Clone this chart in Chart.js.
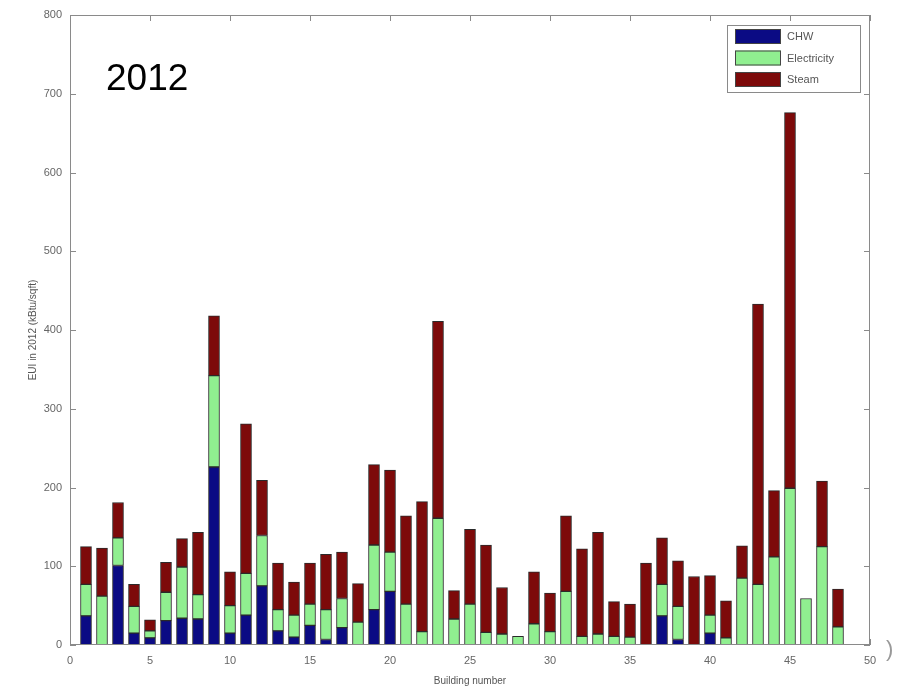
<!DOCTYPE html>
<html>
<head>
<meta charset="utf-8">
<script src="https://cdn.jsdelivr.net/npm/chart.js@4.4.1/dist/chart.umd.min.js"></script>
<style>
html,body{margin:0;padding:0;background:#fff;}
#wrap{position:relative;width:905px;height:689px;}
</style>
</head>
<body>
<div id="wrap"><canvas id="c" width="905" height="689"></canvas></div>
<script>
// ---- data ----
const buildings = [1,2,3,4,5,6,7,8,9,10,11,12,13,14,15,16,17,18,19,20,21,22,23,24,25,26,27,28,29,30,31,32,33,34,35,36,37,38,39,40,41,42,43,44,45,46,47,48];
const chw   = [37,0,101,15,9,31,34,33,226,15,38,75,18,10,25,7,22,0,45,68,0,0,0,0,0,0,0,0,0,0,0,0,0,0,0,0,37,7,0,15,0,0,0,0,0,0,0,0];
const elec  = [40,62,35,34,9,36,65,31,116,35,53,64,27,28,27,38,37,29,82,50,52,17,161,33,52,16,14,11,27,17,68,11,14,11,10,0,40,42,0,23,9,85,77,112,199,59,125,23];
const steam = [48,61,45,28,14,38,36,79,76,43,190,70,59,42,52,70,59,49,102,104,112,165,250,36,95,111,59,0,66,49,96,111,129,44,42,104,59,58,87,50,47,41,356,84,477,0,83,48];
const seriesNames = ["CHW","Electricity","Steam"];
const xTicks = [0,5,10,15,20,25,30,35,40,45,50];
const yTicks = [0,100,200,300,400,500,600,700,800];
const panelLabel = "2012";
const xTitle = "Building number";
const yTitle = "EUI in 2012 (kBtu/sqft)";

const colors = ["#0b0b84","#90ef90","#7d0a0a"];
const pts = arr => buildings.map((b,i)=>({x:b,y:arr[i]}));
const allSeries = [chw, elec, steam];

const framePlugin = {
  id:'frame',
  beforeDatasetsDraw(chart){
    const {ctx, chartArea:a, scales:{x,y}} = chart;
    ctx.save();
    ctx.strokeStyle = '#8a8a8a';
    ctx.lineWidth = 1;
    ctx.beginPath();
    const L = 6;
    xTicks.forEach(v=>{
      const px = Math.round(x.getPixelForValue(v))+0.5;
      ctx.moveTo(px,a.bottom); ctx.lineTo(px,a.bottom-L);
      ctx.moveTo(px,a.top); ctx.lineTo(px,a.top+L);
    });
    yTicks.forEach(v=>{
      const py = Math.round(y.getPixelForValue(v))+0.5;
      ctx.moveTo(a.left,py); ctx.lineTo(a.left+L,py);
      ctx.moveTo(a.right,py); ctx.lineTo(a.right-L,py);
    });
    ctx.stroke();
    ctx.restore();
  },
  afterDatasetsDraw(chart){
    const {ctx, chartArea:a} = chart;
    ctx.save();
    ctx.strokeStyle = '#8a8a8a';
    ctx.lineWidth = 1;
    ctx.strokeRect(a.left+0.5, a.top+0.5, a.right-a.left-1, a.bottom-a.top-1);
    // panel label
    ctx.fillStyle = '#000';
    ctx.font = '37px "Liberation Sans", Arial, sans-serif';
    ctx.textBaseline = 'middle';
    ctx.textAlign = 'left';
    ctx.fillText(panelLabel, 106, 80);
    // legend
    const lx=727, ly=25, lw=133, lh=67;
    ctx.fillStyle='#fff';
    ctx.fillRect(lx,ly,lw,lh);
    ctx.strokeStyle='#8a8a8a';
    ctx.strokeRect(lx+0.5,ly+0.5,lw,lh);
    chart.data.datasets.forEach((ds,i)=>{
      const sy = 29 + i*21.5;
      ctx.fillStyle = ds.backgroundColor;
      ctx.fillRect(735, sy, 46, 15);
      ctx.strokeStyle='#444';
      ctx.strokeRect(735.5, sy+0.5, 45, 14);
      ctx.fillStyle='#555';
      ctx.font='11px "Liberation Sans", Arial, sans-serif';
      ctx.textAlign='left';
      ctx.textBaseline='middle';
      ctx.fillText(ds.label, 787, sy+8);
    });
    // stray glyph at edge of slide
    ctx.fillStyle='#999';
    ctx.font='22px "Liberation Sans", Arial, sans-serif';
    ctx.fillText(')', 886, 650);
    ctx.restore();
  }
};

new Chart(document.getElementById('c'), {
  type:'bar',
  data:{
    datasets: seriesNames.map((n,i)=>({
      label:n,
      data:pts(allSeries[i]),
      backgroundColor:colors[i],
      borderColor:'#2a2a2a',
      borderWidth:1,
      borderSkipped:false,
      barThickness:11
    }))
  },
  options:{
    responsive:false,
    animation:false,
    devicePixelRatio:1,
    layout:{padding:{top:15,right:35,left:0,bottom:0}},
    plugins:{legend:{display:false},tooltip:{enabled:false}},
    scales:{
      x:{
        type:'linear', stacked:true, min:0, max:50, offset:false,
        grid:{display:false, drawTicks:false},
        border:{display:false},
        afterBuildTicks(s){ s.ticks = xTicks.map(v=>({value:v})); },
        ticks:{color:'#666', font:{size:11, family:'"Liberation Sans", Arial, sans-serif'}, padding:9, maxRotation:0, autoSkip:false},
        title:{display:true, text:xTitle, color:'#555', font:{size:10, family:'"Liberation Sans", Arial, sans-serif'}, padding:{top:0,bottom:2}},
        afterFit(s){ s.height = 44; }
      },
      y:{
        stacked:true, min:0, max:800,
        grid:{display:false, drawTicks:false},
        border:{display:false},
        afterBuildTicks(s){ s.ticks = yTicks.map(v=>({value:v})); },
        ticks:{color:'#666', font:{size:11, family:'"Liberation Sans", Arial, sans-serif'}, padding:8},
        title:{display:true, text:yTitle, color:'#555', font:{size:10, family:'"Liberation Sans", Arial, sans-serif'}, padding:{top:27,bottom:0}},
        afterFit(s){ s.width = 70; }
      }
    }
  },
  plugins:[framePlugin]
});
</script>
</body>
</html>
